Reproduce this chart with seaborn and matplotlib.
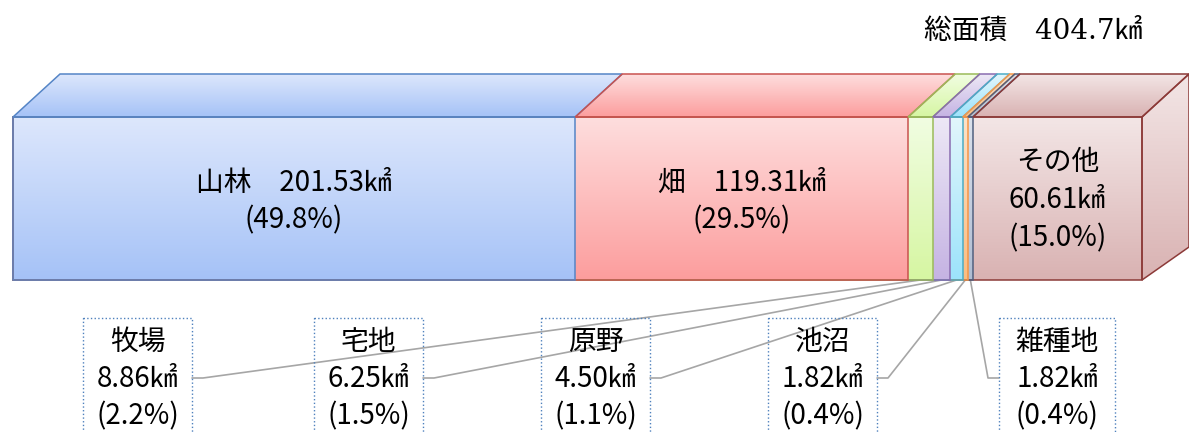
import numpy as np
import matplotlib
matplotlib.use("Agg")
import matplotlib.pyplot as plt
import seaborn as sns
from matplotlib.patches import Polygon, Rectangle
from matplotlib.colors import LinearSegmentedColormap

# land use data (km2)
categories = ['山林', '畑', '牧場', '宅地', '原野', '池沼', '雑種地', 'その他']
areas = [201.53, 119.31, 8.86, 6.25, 4.50, 1.82, 1.82, 60.61]
pcts = ['49.8', '29.5', '2.2', '1.5', '1.1', '0.4', '0.4', '15.0']
total_label = '総面積　404.7㎢'

# gradient (light, dark) and edge colours per segment
light = ['#dde7fc', '#fedede', '#f1fde2', '#ede8f6', '#e2f6fc', '#fde2c8', '#dbe1ec', '#f3e6e6']
dark = ['#a5c2f7', '#fc9d9d', '#d6f6a2', '#c5b3e3', '#9ce3fb', '#fbbd82', '#aebcd2', '#d9b2b2']
edges = ['#5585c6', '#c9524f', '#9bbb59', '#8a6cb0', '#4bacc6', '#f79646', '#50607f', '#8c3a38']

sns.set_theme(style='white')
plt.rcParams['font.family'] = ['Noto Sans CJK JP', 'DejaVu Sans']
plt.rcParams['text.color'] = 'black'

TOTAL = sum(areas)
cum = np.cumsum(areas)
left = cum - np.array(areas)

W, H = 1189, 432
fig = plt.figure(figsize=(W / 100, H / 100), dpi=100)
ax = fig.add_axes([0, 0, 1, 1])

# pixel -> data helpers (bar front face spans px 13..1142 and y 117..280)
PPX = 1129 / TOTAL
X0 = -13 / PPX
PPY = 163 / 0.8
def px_x(p):
    return X0 + p / PPX
def px_y(p):
    return -0.4 + (p - 117) / PPY

DX = 47 / PPX
DY = -43 / PPY
YT, YB = -0.4, 0.4

# front faces: stacked bars drawn longest first so each segment keeps its colour
for i in reversed(range(len(categories))):
    sns.barplot(x=[cum[i]], y=['面積'], orient='h', fill=False, color=edges[i],
                linewidth=1.1, width=0.8, ax=ax, zorder=4)

grad = np.linspace(0, 1, 256).reshape(-1, 1)
def gradient(poly_pts, c1, c2):
    cmap = LinearSegmentedColormap.from_list('g', [c1, c2])
    xs = [p[0] for p in poly_pts]
    ys = [p[1] for p in poly_pts]
    im = ax.imshow(grad, cmap=cmap, aspect='auto', origin='upper',
                   extent=(min(xs), max(xs), max(ys), min(ys)), zorder=2,
                   interpolation='bilinear')
    clip = Polygon(poly_pts, closed=True, transform=ax.transData)
    im.set_clip_path(clip)

for i in range(len(categories)):
    l, r = left[i], cum[i]
    gradient([(l, YT), (r, YT), (r, YB), (l, YB)], light[i], dark[i])
    top = [(l, YT), (r, YT), (r + DX, YT + DY), (l + DX, YT + DY)]
    gradient(top, light[i], dark[i])
    ax.add_patch(Polygon(top, closed=True, fill=False, edgecolor=edges[i], lw=1.1, zorder=4))

# right side face of the last segment
R = cum[-1]
side = [(R, YT), (R + DX, YT + DY), (R + DX, px_y(247)), (R, YB)]
gradient(side, light[-1], dark[-1])
ax.add_patch(Polygon(side, closed=True, fill=False, edgecolor=edges[-1], lw=1.1, zorder=4))

# labels inside the big segments
fs = 20
mid = left + np.array(areas) / 2
ax.text(mid[0], px_y(183), f'{categories[0]}　{areas[0]:.2f}㎢', ha='center', va='center', fontsize=fs, zorder=5)
ax.text(mid[0], px_y(220), f'({pcts[0]}%)', ha='center', va='center', fontsize=fs, zorder=5)
ax.text(mid[1], px_y(183), f'{categories[1]}　{areas[1]:.2f}㎢', ha='center', va='center', fontsize=fs, zorder=5)
ax.text(mid[1], px_y(220), f'({pcts[1]}%)', ha='center', va='center', fontsize=fs, zorder=5)
ax.text(mid[7], px_y(162), categories[7], ha='center', va='center', fontsize=fs, zorder=5)
ax.text(mid[7], px_y(200), f'{areas[7]:.2f}㎢', ha='center', va='center', fontsize=fs, zorder=5)
ax.text(mid[7], px_y(238), f'({pcts[7]}%)', ha='center', va='center', fontsize=fs, zorder=5)

# callout boxes for the thin segments
boxes = [(83, 192), (314, 423), (541, 650), (768, 877), (999, 1115)]
for k, (bl, br) in enumerate(boxes):
    i = k + 2
    ax.add_patch(Rectangle((px_x(bl), px_y(318)), px_x(br) - px_x(bl), px_y(470) - px_y(318),
                           fill=False, edgecolor='#4f81bd', lw=1.0, ls=':', zorder=5))
    cx = px_x((bl + br) / 2)
    ax.text(cx, px_y(342), categories[i], ha='center', va='center', fontsize=fs, zorder=6)
    ax.text(cx, px_y(379), f'{areas[i]:.2f}㎢', ha='center', va='center', fontsize=fs, zorder=6)
    ax.text(cx, px_y(416), f'({pcts[i]}%)', ha='center', va='center', fontsize=fs, zorder=6)
    if k < 4:
        sx, ex = px_x(br), px_x(br + 11)
    else:
        sx, ex = px_x(bl), px_x(bl - 11)
    ax.plot([sx, ex, mid[i]], [px_y(378), px_y(378), YB], color='#a6a6a6', lw=1.2, zorder=3)

ax.text(px_x(1142), px_y(31), total_label, ha='right', va='center', fontsize=20,
        family=['DejaVu Serif', 'Noto Sans CJK JP'])

ax.set_xlim(px_x(0), px_x(W))
ax.set_ylim(px_y(H), px_y(0))
ax.axis('off')
fig.savefig('out.png', dpi=100)
